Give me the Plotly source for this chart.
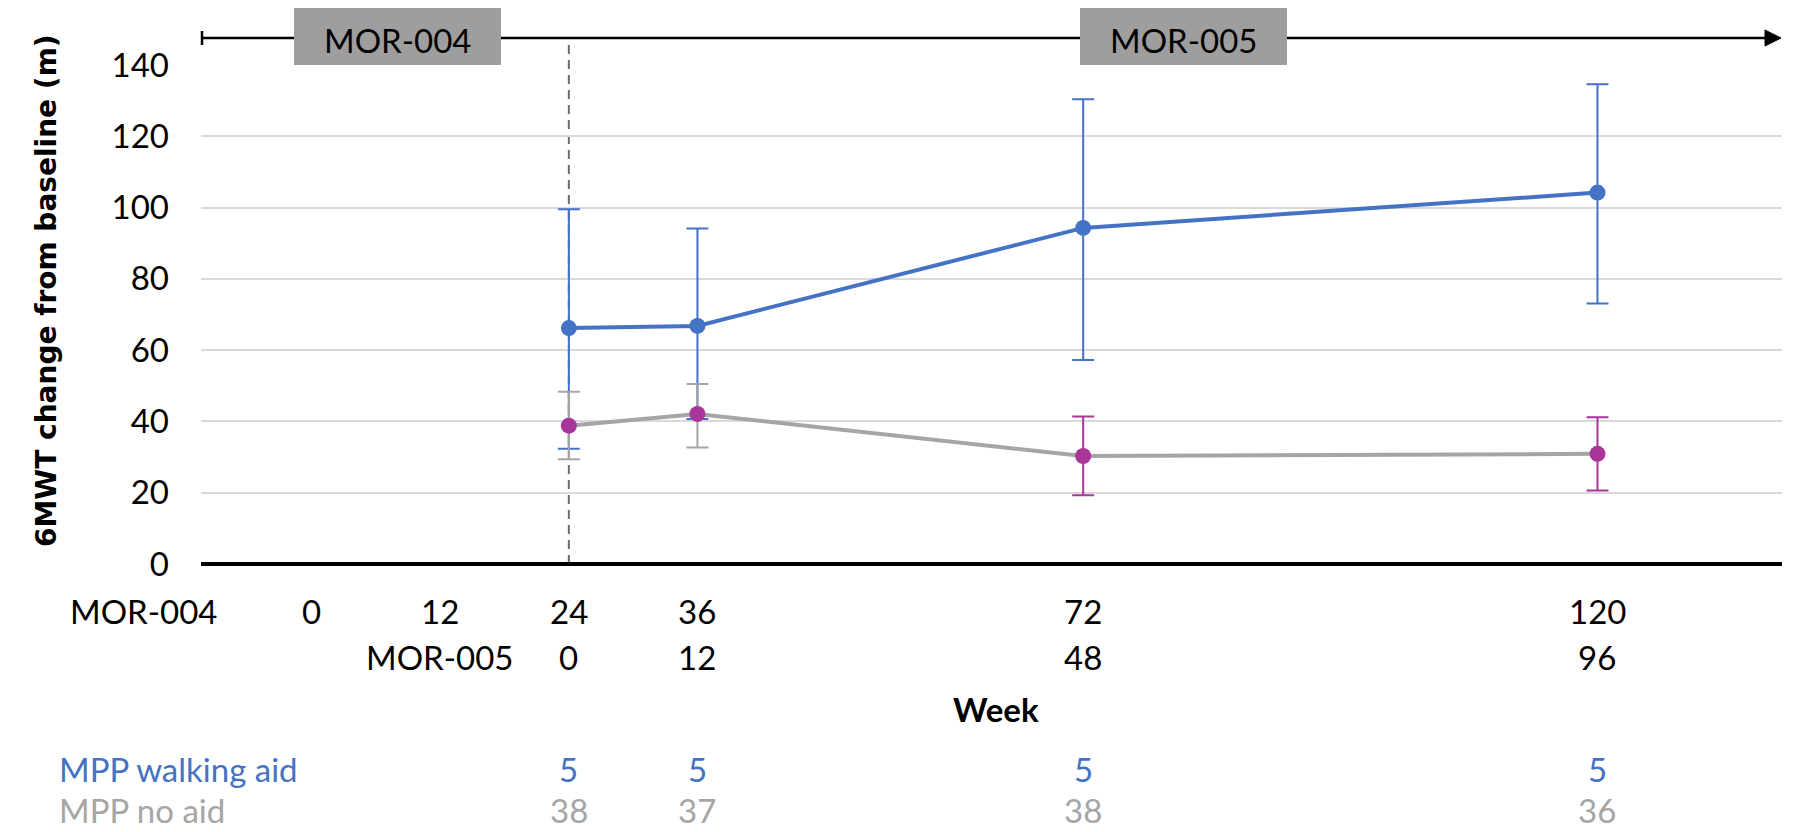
import plotly.graph_objects as go

# ---------------- data ----------------
weeks_mor004 = [24, 36, 72, 120]          # x positions (MOR-004 weeks)
weeks_mor005 = [0, 12, 48, 96]            # same visits, MOR-005 weeks
row1_ticks = [0, 12, 24, 36, 72, 120]     # MOR-004 week labels

walking_aid_mean = [66.2, 66.8, 94.3, 104.2]
walking_aid_upper = [99.5, 94.1, 130.4, 134.6]
walking_aid_lower = [32.3, 40.7, 57.2, 73.1]

no_aid_mean = [38.8, 42.1, 30.3, 30.9]
no_aid_upper = [48.3, 50.5, 41.4, 41.2]
no_aid_lower = [29.4, 32.7, 19.3, 20.6]

n_walking_aid = [5, 5, 5, 5]
n_no_aid = [38, 37, 38, 36]

y_ticks = [0, 20, 40, 60, 80, 100, 120, 140]

# ---------------- style ----------------
BLUE = "#4472C4"
GRAY = "#A5A5A5"
MAGENTA = "#A9359B"
BOX = "#9E9E9E"
FONT = "Lato"
FS = 33
no_aid_err_colors = [GRAY, GRAY, MAGENTA, MAGENTA]

W, H = 1795, 832
L, R, T, B = 201, 13, 65, 268
PW, PH = W - L - R, H - T - B
X_RANGE = [-10.33, 137.22]
Y_RANGE = [0, 140]


def px_x(px):
    return (px - L) / PW


def px_y(py):
    return (H - B - py) / PH


def week_paper(w):
    return (w - X_RANGE[0]) / (X_RANGE[1] - X_RANGE[0])


fig = go.Figure()

# MPP walking aid
fig.add_trace(go.Scatter(
    x=weeks_mor004, y=walking_aid_mean, mode="lines+markers",
    line=dict(color=BLUE, width=4),
    marker=dict(color=BLUE, size=16),
    error_y=dict(type="data", symmetric=False,
                 array=[u - m for u, m in zip(walking_aid_upper, walking_aid_mean)],
                 arrayminus=[m - l for m, l in zip(walking_aid_mean, walking_aid_lower)],
                 color=BLUE, thickness=2, width=11),
    hoverinfo="skip", showlegend=False))

# MPP no aid line
fig.add_trace(go.Scatter(
    x=weeks_mor004, y=no_aid_mean, mode="lines",
    line=dict(color=GRAY, width=4), hoverinfo="skip", showlegend=False))

# MPP no aid points with per-point error bar colours
for i in range(len(weeks_mor004)):
    fig.add_trace(go.Scatter(
        x=[weeks_mor004[i]], y=[no_aid_mean[i]], mode="markers",
        marker=dict(color=MAGENTA, size=16),
        error_y=dict(type="data", symmetric=False,
                     array=[no_aid_upper[i] - no_aid_mean[i]],
                     arrayminus=[no_aid_mean[i] - no_aid_lower[i]],
                     color=no_aid_err_colors[i], thickness=2, width=11),
        hoverinfo="skip", showlegend=False))

shapes = []
# x axis line at 0
shapes.append(dict(type="line", xref="paper", yref="paper", x0=0, x1=1, y0=0, y1=0,
                   line=dict(color="black", width=4), layer="above"))
# dashed vertical line at MOR-005 start
shapes.append(dict(type="line", xref="paper", yref="paper",
                   x0=week_paper(weeks_mor004[0]), x1=week_paper(weeks_mor004[0]),
                   y0=0, y1=px_y(38),
                   line=dict(color="#6E6E6E", width=2, dash="9px,6px"), layer="below"))
# top timeline
shapes.append(dict(type="line", xref="paper", yref="paper", x0=px_x(201), x1=px_x(1770),
                   y0=px_y(38), y1=px_y(38), line=dict(color="black", width=2.5)))
shapes.append(dict(type="line", xref="paper", yref="paper", x0=px_x(202), x1=px_x(202),
                   y0=px_y(31), y1=px_y(45), line=dict(color="black", width=2.5)))
shapes.append(dict(type="path", xref="paper", yref="paper",
                   path="M {} {} L {} {} L {} {} Z".format(px_x(1765), px_y(30), px_x(1781), px_y(38),
                                                           px_x(1765), px_y(46)),
                   fillcolor="black", line=dict(color="black", width=1)))
# study boxes
for x0, x1 in [(294, 501), (1080, 1287)]:
    shapes.append(dict(type="rect", xref="paper", yref="paper", x0=px_x(x0), x1=px_x(x1),
                       y0=px_y(65), y1=px_y(8), fillcolor=BOX, line=dict(width=0)))

ann = []


def add_text(text, x, y, xref="paper", color="black", bold=False, size=FS, xanchor="center"):
    ann.append(dict(text="<b>%s</b>" % text if bold else text, x=x, y=y, xref=xref, yref="paper",
                    showarrow=False, xanchor=xanchor, yanchor="middle",
                    font=dict(family=FONT, size=size, color=color)))


add_text("MOR-004", px_x(397.5), px_y(40))
add_text("MOR-005", px_x(1183.5), px_y(40))

ROW1, ROW2, WEEK, ROW3, ROW4 = 611, 657, 709, 769, 810
add_text("MOR-004", px_x(143.5), px_y(ROW1))
for w in row1_ticks:
    add_text(str(w), w, px_y(ROW1), xref="x")
add_text("MOR-005", px_x(439.5), px_y(ROW2))
for xw, w in zip(weeks_mor004, weeks_mor005):
    add_text(str(w), xw, px_y(ROW2), xref="x")
add_text("Week", px_x(995.5), px_y(WEEK), bold=True)
add_text("MPP walking aid", px_x(57), px_y(ROW3), color=BLUE, xanchor="left")
for xw, n in zip(weeks_mor004, n_walking_aid):
    add_text(str(n), xw, px_y(ROW3), xref="x", color=BLUE)
add_text("MPP no aid", px_x(57), px_y(ROW4), color=GRAY, xanchor="left")
for xw, n in zip(weeks_mor004, n_no_aid):
    add_text(str(n), xw, px_y(ROW4), xref="x", color=GRAY)

# y axis title
ann.append(dict(text="<b>6MWT change from baseline (m)</b>", x=px_x(46), y=px_y(291),
                xref="paper", yref="paper", showarrow=False, textangle=-90,
                xanchor="center", yanchor="middle",
                font=dict(family="DejaVu Sans", size=28, color="black")))

fig.update_layout(
    width=W, height=H, autosize=False,
    margin=dict(l=L, r=R, t=T, b=B, pad=0),
    paper_bgcolor="white", plot_bgcolor="white",
    showlegend=False,
    shapes=shapes, annotations=ann,
    xaxis=dict(range=X_RANGE, showgrid=False, zeroline=False, showline=False,
               showticklabels=False, ticks=""),
    yaxis=dict(range=Y_RANGE, tickvals=y_ticks, showgrid=True, gridcolor="#D9D9D9",
               gridwidth=1.5, zeroline=False, showline=False, ticks="",
               ticklabelstandoff=31,
               tickfont=dict(family=FONT, size=FS, color="black")),
)

fig.write_html("out.html")
